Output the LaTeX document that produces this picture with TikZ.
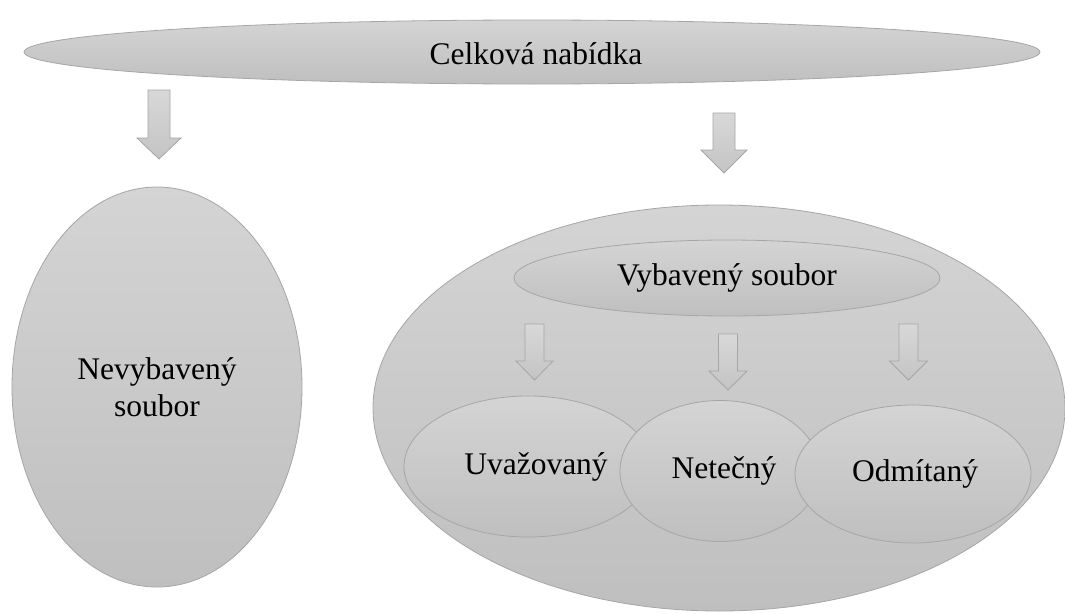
\documentclass[tikz,border=0pt]{standalone}
\usepackage{fontspec}
\setmainfont{Liberation Serif}
\usetikzlibrary{shapes.geometric}
\definecolor{ftop}{HTML}{D4D4D4}
\definecolor{fbot}{HTML}{BFBFBF}
\definecolor{edge}{HTML}{A6A6A6}
\definecolor{atop}{HTML}{D8D8D8}
\definecolor{abot}{HTML}{C4C4C4}
\newcommand\blockarr[6]{% cx, top, shaft half width, head half width, shaft bottom, tip
  \draw[blockarrow] ({#1-#3},#2) -- ({#1+#3},#2) -- ({#1+#3},#5) -- ({#1+#4},#5)
    -- (#1,#6) -- ({#1-#4},#5) -- ({#1-#3},#5) -- cycle;}
\begin{document}
\begin{tikzpicture}[x=1pt,y=-1pt,
  blob/.style={ellipse, draw=edge, line width=0.8pt, top color=ftop, bottom color=fbot,
    inner sep=0pt, font=\fontsize{31.5}{37}\selectfont, align=center},
  blockarrow/.style={draw=edge, line width=0.8pt, top color=atop, bottom color=abot},
  lbl/.style={font=\fontsize{31.5}{37}\selectfont}]
\useasboundingbox (0,0) rectangle (1065,613);
\fill[white] (0,0) rectangle (1065,613);

% top ellipse
\node[blob, minimum width=1016pt, minimum height=64pt] (total) at (532,52) {};
\node[lbl] (totaltxt) at (536,54) {Celková nabídka};

% arrows from top
\blockarr{159}{90}{11}{22}{138}{159}
\blockarr{724}{113}{11}{23}{150}{173}

% left ellipse
\node[blob, minimum width=290pt, minimum height=400pt] (nevyb) at (157,387) {Nevybavený\\soubor};

% big right ellipse
\node[blob, minimum width=692pt, minimum height=406pt] (vybset) at (719,408) {};

% Vybavený soubor
\node[blob, minimum width=426pt, minimum height=76pt] (vyb) at (727,278) {Vybavený soubor};

% small arrows
\blockarr{534.5}{324}{9.5}{18.5}{361}{380}
\blockarr{728}{334}{9.5}{19}{371}{390}
\blockarr{908.5}{324}{9.5}{19}{361}{380}

% three ellipses
\node[blob, minimum width=248pt, minimum height=141pt,
  label={[lbl, xshift=8pt]center:Uvažovaný}] (uvaz) at (528,466.5) {};
\node[blob, minimum width=200pt, minimum height=141pt,
  label={[lbl, xshift=4pt]center:Netečný}] (net) at (720,471) {};
\node[blob, minimum width=236pt, minimum height=138pt,
  label={[lbl, xshift=2pt]center:Odmítaný}] (odm) at (913,474) {};
\end{tikzpicture}
\end{document}
